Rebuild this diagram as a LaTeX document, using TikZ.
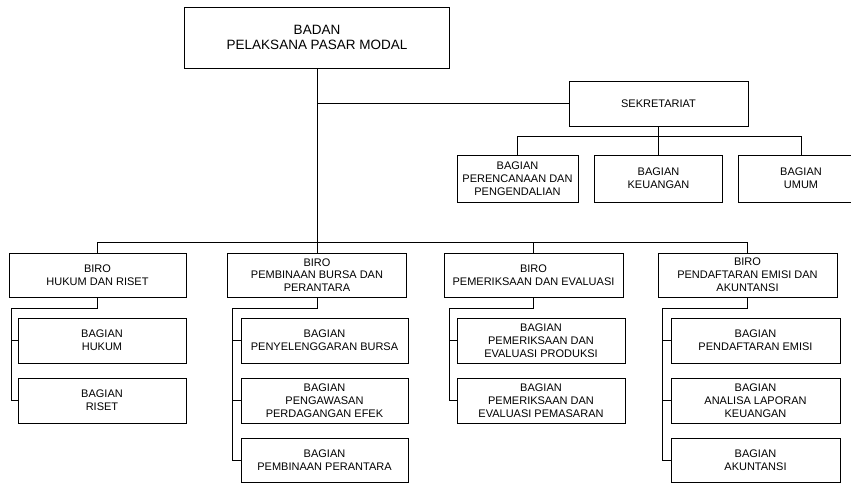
\documentclass[tikz,border=0pt]{standalone}
\usepackage{fontspec}
\setmainfont{Liberation Sans}
\begin{document}
\begin{tikzpicture}[x=1pt,y=-1pt,
  box/.style={draw=black,line width=0.8pt,inner sep=0pt,align=center,
    font=\fontsize{11}{12.8}\selectfont},
  topbox/.style={box,font=\fontsize{13.5}{15.5}\selectfont},
  conn/.style={draw=black,line width=0.8pt}]
\useasboundingbox (0,0) rectangle (851,483);
\clip (0,0) rectangle (851,483);
% top
\node[topbox,minimum width=265pt,minimum height=61pt] (top) at (317,37.5) {BADAN\\PELAKSANA PASAR MODAL};
% sekretariat
\node[box,minimum width=179pt,minimum height=45pt] (sek) at (658.5,103.5) {SEKRETARIAT};
\node[box,minimum width=121pt,minimum height=47pt] (s1) at (517.5,178.5) {BAGIAN\\PERENCANAAN DAN\\PENGENDALIAN};
\node[box,minimum width=128pt,minimum height=47pt] (s2) at (658.5,178.5) {BAGIAN\\KEUANGAN};
\node[box,minimum width=126pt,minimum height=47pt] (s3) at (801,178.5) {BAGIAN\\UMUM};
% biro
\node[box,minimum width=177pt,minimum height=44pt] (b1) at (97.5,275) {BIRO\\HUKUM DAN RISET};
\node[box,minimum width=179pt,minimum height=44pt] (b2) at (317,275) {BIRO\\PEMBINAAN BURSA DAN\\PERANTARA};
\node[box,minimum width=179pt,minimum height=44pt] (b3) at (533.5,275) {BIRO\\PEMERIKSAAN DAN EVALUASI};
\node[box,minimum width=179pt,minimum height=44pt] (b4) at (747.5,275) {BIRO\\PENDAFTARAN EMISI DAN\\AKUNTANSI};
% column 1
\node[box,minimum width=168pt,minimum height=45pt] (c11) at (102,340.5) {BAGIAN\\HUKUM};
\node[box,minimum width=168pt,minimum height=45pt] (c12) at (102,400.5) {BAGIAN\\RISET};
% column 2
\node[box,minimum width=167pt,minimum height=45pt] (c21) at (324.5,340.5) {BAGIAN\\PENYELENGGARAN BURSA};
\node[box,minimum width=167pt,minimum height=45pt] (c22) at (324.5,400.5) {BAGIAN\\PENGAWASAN\\PERDAGANGAN EFEK};
\node[box,minimum width=167pt,minimum height=44pt] (c23) at (324.5,460) {BAGIAN\\PEMBINAAN PERANTARA};
% column 3
\node[box,minimum width=168pt,minimum height=45pt] (c31) at (541,340.5) {BAGIAN\\PEMERIKSAAN DAN\\EVALUASI PRODUKSI};
\node[box,minimum width=168pt,minimum height=45pt] (c32) at (541,400.5) {BAGIAN\\PEMERIKSAAN DAN\\EVALUASI PEMASARAN};
% column 4
\node[box,minimum width=169pt,minimum height=45pt] (c41) at (755.5,340.5) {BAGIAN\\PENDAFTARAN EMISI};
\node[box,minimum width=169pt,minimum height=45pt] (c42) at (755.5,400.5) {BAGIAN\\ANALISA LAPORAN\\KEUANGAN};
\node[box,minimum width=169pt,minimum height=44pt] (c43) at (755.5,460) {BAGIAN\\AKUNTANSI};
% helper coordinates
\coordinate (hb) at (0,242);
\coordinate (sb) at (0,136);
\coordinate (e1) at (11,308);
\coordinate (e2) at (232,308);
\coordinate (e3) at (449,308);
\coordinate (e4) at (662,308);
% connectors top level
\draw[conn] (top.south) -- (top.south |- hb);
\draw[conn] (top.south |- sek.west) -- (sek.west);
\draw[conn] (b1.north) |- (b4.north |- hb) -- (b4.north);
\draw[conn] (b2.north) -- (b2.north |- hb);
\draw[conn] (b3.north) -- (b3.north |- hb);
% sekretariat
\draw[conn] (sek.south) -- (s2.north);
\draw[conn] (s1.north) |- (s3.north |- sb) -- (s3.north);
% columns
\draw[conn] (b1.south) |- (e1) |- (c12.west);
\draw[conn] (e1 |- c11.west) -- (c11.west);
\draw[conn] (b2.south) |- (e2) |- (c23.west);
\draw[conn] (e2 |- c21.west) -- (c21.west);
\draw[conn] (e2 |- c22.west) -- (c22.west);
\draw[conn] (b3.south) |- (e3) |- (c32.west);
\draw[conn] (e3 |- c31.west) -- (c31.west);
\draw[conn] (b4.south) |- (e4) |- (c43.west);
\draw[conn] (e4 |- c41.west) -- (c41.west);
\draw[conn] (e4 |- c42.west) -- (c42.west);
\end{tikzpicture}
\end{document}
